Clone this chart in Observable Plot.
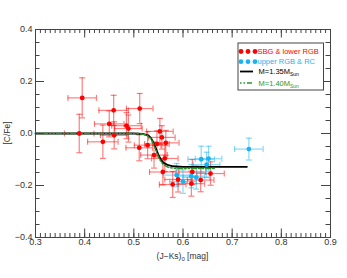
<!DOCTYPE html>
<html><head><meta charset="utf-8">
<script src="https://cdn.jsdelivr.net/npm/d3@7"></script>
<script src="https://cdn.jsdelivr.net/npm/@observablehq/plot@0.6"></script>
<style>
body{margin:0;background:#fff;}
#chart svg{display:block;font-family:"Liberation Sans",Arial,sans-serif;}
</style>
</head><body><div id="chart"></div>
<script>
// SBG & lower RGB (red)
const redX    = [0.395, 0.389, 0.437, 0.450, 0.459, 0.460, 0.485, 0.489, 0.512, 0.511, 0.528, 0.541, 0.553, 0.557, 0.547, 0.565, 0.563, 0.559, 0.579, 0.590, 0.619, 0.617, 0.636, 0.656];
const redY    = [0.137, 0.000, -0.032, 0.037, 0.089, -0.007, 0.030, 0.019, 0.096, -0.055, -0.045, -0.083, 0.008, -0.015, -0.040, -0.036, -0.096, -0.148, -0.196, -0.177, -0.148, -0.193, -0.179, -0.154];
const redXerr = [0.029, 0.030, 0.031, 0.030, 0.030, 0.028, 0.030, 0.028, 0.027, 0.027, 0.027, 0.027, 0.027, 0.027, 0.025, 0.027, 0.027, 0.027, 0.027, 0.027, 0.027, 0.027, 0.027, 0.028];
const redYerr = [0.077, 0.074, 0.064, 0.050, 0.058, 0.052, 0.050, 0.052, 0.058, 0.050, 0.052, 0.050, 0.050, 0.045, 0.050, 0.048, 0.050, 0.050, 0.050, 0.048, 0.048, 0.048, 0.045, 0.045];
// upper RGB & RC (blue)
const blueX    = [0.734, 0.637, 0.652, 0.648, 0.587, 0.600, 0.617, 0.627];
const blueY    = [-0.060, -0.099, -0.097, -0.120, -0.160, -0.185, -0.164, -0.169];
const blueXerr = [0.029, 0.027, 0.027, 0.027, 0.027, 0.027, 0.027, 0.027];
const blueYerr = [0.042, 0.050, 0.048, 0.048, 0.045, 0.045, 0.045, 0.045];
// model curves
const m135X = [0.30, 0.50, 0.520, 0.530, 0.535, 0.540, 0.545, 0.550, 0.555, 0.560, 0.570, 0.580, 0.600, 0.730];
const m135Y = [0.000, 0.000, -0.002, -0.008, -0.018, -0.035, -0.058, -0.082, -0.100, -0.112, -0.122, -0.126, -0.128, -0.128];
const m140X = [0.30, 0.51, 0.525, 0.535, 0.540, 0.545, 0.550, 0.555, 0.560, 0.570, 0.580, 0.600, 0.665];
const m140Y = [0.000, 0.000, -0.005, -0.020, -0.040, -0.065, -0.090, -0.108, -0.120, -0.130, -0.133, -0.135, -0.135];
// ticks
const xMajor = [0.3, 0.4, 0.5, 0.6, 0.7, 0.8, 0.9];
const yMajor = [-0.4, -0.2, 0.0, 0.2, 0.4];
const xMinorStep = 0.01, yMinorStep = 0.05;

const RED = "#ff0000", BLUE = "#19b4ef", GREEN = "#2a962a", AX = "#444";
const W = 347, H = 278, mL = 35, mR = 17, mT = 29, mB = 41;
const PW = W - mL - mR, PH = H - mT - mB;

const red = redX.map((x, i) => ({x, y: redY[i], xe: redXerr[i], ye: redYerr[i]}));
const blue = blueX.map((x, i) => ({x, y: blueY[i], xe: blueXerr[i], ye: blueYerr[i]}));
const m135 = m135X.map((x, i) => ({x, y: m135Y[i]}));
const m140 = m140X.map((x, i) => ({x, y: m140Y[i]}));
const xMinor = d3.range(0.3, 0.9 + 1e-9, xMinorStep);
const yMinor = d3.range(-0.4, 0.4 + 1e-9, yMinorStep);

const vcap = {draw(c, s) { const l = Math.sqrt(s / Math.PI); c.moveTo(0, -l); c.lineTo(0, l); }};
const hcap = {draw(c, s) { const l = Math.sqrt(s / Math.PI); c.moveTo(-l, 0); c.lineTo(l, 0); }};

function errMarks(data, color) {
  const o = {stroke: color, strokeOpacity: 0.5, strokeWidth: 1.2};
  const c = {...o, fill: "none", r: 3};
  return [
    Plot.ruleY(data, {y: "y", x1: d => d.x - d.xe, x2: d => d.x + d.xe, ...o}),
    Plot.ruleX(data, {x: "x", y1: d => d.y - d.ye, y2: d => d.y + d.ye, ...o}),
    Plot.dot(data, {x: d => d.x - d.xe, y: "y", symbol: vcap, ...c}),
    Plot.dot(data, {x: d => d.x + d.xe, y: "y", symbol: vcap, ...c}),
    Plot.dot(data, {x: "x", y: d => d.y - d.ye, symbol: hcap, ...c}),
    Plot.dot(data, {x: "x", y: d => d.y + d.ye, symbol: hcap, ...c})
  ];
}

const plot = Plot.plot({
  width: W, height: H,
  marginLeft: mL, marginRight: mR, marginTop: mT, marginBottom: mB,
  style: {fontSize: "9px", fontFamily: "'Liberation Sans', Arial, sans-serif", color: "#333", background: "white"},
  x: {domain: [0.3, 0.9]},
  y: {domain: [-0.4, 0.4]},
  marks: [
    ...errMarks(red, RED),
    ...errMarks(blue, BLUE),
    Plot.line(m135, {x: "x", y: "y", stroke: "black", strokeWidth: 1.8}),
    Plot.line(m140, {x: "x", y: "y", stroke: GREEN, strokeWidth: 1.5, strokeDasharray: "1.5,2,1.5,2,5,2"}),
    Plot.dot(red, {x: "x", y: "y", r: 2.4, fill: RED}),
    Plot.dot(blue, {x: "x", y: "y", r: 2.4, fill: BLUE}),
    // inward ticks
    Plot.tickX(xMajor, {x: d => d, insetTop: PH - 8.5, stroke: AX}),
    Plot.tickX(xMinor, {x: d => d, insetTop: PH - 4, stroke: AX}),
    Plot.tickX(xMajor, {x: d => d, insetBottom: PH - 8.5, stroke: AX}),
    Plot.tickX(xMinor, {x: d => d, insetBottom: PH - 4, stroke: AX}),
    Plot.tickY(yMajor, {y: d => d, insetRight: PW - 9, stroke: AX}),
    Plot.tickY(yMinor, {y: d => d, insetRight: PW - 4.5, stroke: AX}),
    Plot.tickY(yMajor, {y: d => d, insetLeft: PW - 9, stroke: AX}),
    Plot.tickY(yMinor, {y: d => d, insetLeft: PW - 4.5, stroke: AX}),
    Plot.frame({stroke: AX}),
    Plot.axisX({ticks: xMajor, tickSize: 0, tickPadding: 1, tickFormat: ".1f", label: null, fill: "#333"}),
    Plot.axisY({ticks: yMajor, tickSize: 0, tickPadding: 3, tickFormat: ".1f", label: null, fill: "#333"})
  ]
});

const svg = d3.select(plot);
const ff = "'Liberation Sans', Arial, sans-serif";
// axis titles
const xt = svg.append("text").attr("x", mL + PW / 2).attr("y", 259).attr("text-anchor", "middle")
  .attr("font-family", ff).attr("font-size", 8.5).attr("fill", "#333");
xt.append("tspan").text("(J−Ks)");
xt.append("tspan").attr("font-size", 6).attr("dy", 2).text("0");
xt.append("tspan").attr("dy", -2).text(" [mag]");
svg.append("text").attr("transform", `translate(10,${mT + PH / 2}) rotate(-90)`).attr("text-anchor", "middle")
  .attr("font-family", ff).attr("font-size", 8.5).attr("fill", "#333").text("[C/Fe]");

// legend
const lg = svg.append("g").attr("font-family", ff).attr("font-size", 7.5).attr("text-anchor", "start");
lg.append("rect").attr("x", 238).attr("y", 43).attr("width", 85.5).attr("height", 47)
  .attr("fill", "white").attr("stroke", AX).attr("stroke-width", 1);
const legendItems = [
  {label: "SBG & lower RGB", color: RED, type: "dot"},
  {label: "upper RGB & RC", color: BLUE, type: "dot"},
  {label: "M=1.35M", sub: "Sun", color: "black", type: "line", dash: null, w: 1.8},
  {label: "M=1.40M", sub: "Sun", color: GREEN, type: "line", dash: "1.5,2,1.5,2,5,2", w: 1.5}
];
const rowY = [51.5, 61.7, 71.5, 83];
legendItems.forEach((it, i) => {
  const y = rowY[i];
  if (it.type === "dot") {
    [241, 248, 255].forEach(cx => lg.append("circle").attr("cx", cx).attr("cy", y).attr("r", 2.4).attr("fill", it.color));
    lg.append("text").attr("x", 257.5).attr("y", y).attr("dy", "0.35em").attr("fill", it.color).text(it.label);
  } else {
    lg.append("line").attr("x1", 240).attr("x2", 253).attr("y1", y).attr("y2", y)
      .attr("stroke", it.color).attr("stroke-width", it.w).attr("stroke-dasharray", it.dash);
    const t = lg.append("text").attr("x", 258.5).attr("y", y).attr("dy", "0.35em").attr("fill", it.color);
    t.append("tspan").text(it.label);
    t.append("tspan").attr("font-size", 5).attr("dy", 2).text(it.sub);
  }
});

document.getElementById("chart").appendChild(plot);
</script>
</body></html>
